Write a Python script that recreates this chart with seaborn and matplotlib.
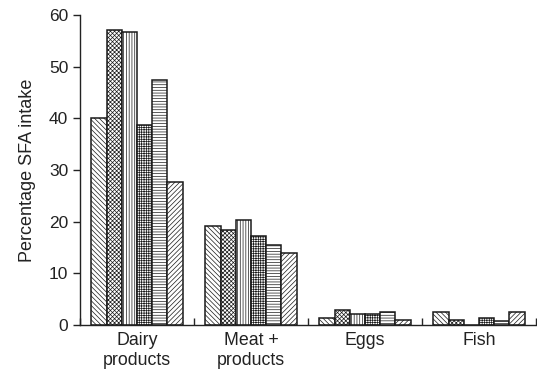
import matplotlib
matplotlib.use("Agg")
import matplotlib.pyplot as plt
import seaborn as sns
import pandas as pd

# Share of saturated fatty acid intake by food group, six survey groups
categories = ["Dairy\nproducts", "Meat +\nproducts", "Eggs", "Fish"]
groups = ["G1", "G2", "G3", "G4", "G5", "G6"]
values = {
    "G1": [40.0, 19.1, 1.3, 2.5],
    "G2": [57.1, 18.3, 2.9, 0.9],
    "G3": [56.8, 20.3, 2.2, 0.0],
    "G4": [38.8, 17.3, 2.2, 1.3],
    "G5": [47.4, 15.4, 2.5, 0.7],
    "G6": [27.7, 13.9, 1.0, 2.5],
}
hatches = ["\\" * 7, "x" * 8, "|" * 6, "+" * 7, "-" * 6, "/" * 7]

rows = []
for g in groups:
    for c, v in zip(categories, values[g]):
        rows.append({"category": c, "group": g, "value": v})
df = pd.DataFrame(rows)

sns.set_theme(style="ticks")
plt.rcParams["font.family"] = ["Liberation Sans", "DejaVu Sans"]
plt.rcParams["hatch.linewidth"] = 0.5

fig = plt.figure(figsize=(5.37, 3.77), dpi=100)
ax = fig.add_axes([0.149, 0.138, 0.849, 0.822])

palette = {g: "white" for g in groups}
sns.barplot(data=df, x="category", y="value", hue="group", order=categories,
            hue_order=groups, palette=palette, width=0.8, gap=0,
            edgecolor="black", linewidth=1.1, legend=False, ax=ax,
            errorbar=None)

# apply hatch per series (patches are ordered series by series)
for i, g in enumerate(groups):
    for j in range(len(categories)):
        p = ax.patches[i * len(categories) + j]
        p.set_hatch(hatches[i])
        p.set_edgecolor("#1a1a1a")

ax.set_xlim(-0.5, 3.5)
ax.set_ylim(0, 60)
ax.set_yticks(range(0, 61, 10))
ax.set_xlabel("")
ax.set_ylabel("Percentage SFA intake", fontsize=13, labelpad=9,
              color="#222222")
ax.tick_params(axis="y", labelsize=12.5, length=5, width=1, direction="out",
               colors="#222222")
ax.tick_params(axis="x", which="major", length=0, labelsize=12.8, pad=5,
               colors="#222222")
for lab in ax.get_xticklabels():
    lab.set_linespacing(1.25)
ax.set_xticks([-0.5, 0.5, 1.5, 2.5, 3.5], minor=True)
ax.tick_params(axis="x", which="minor", length=5, width=1, direction="in")
sns.despine(ax=ax)
for s in ["left", "bottom"]:
    ax.spines[s].set_linewidth(1.0)
    ax.spines[s].set_color("#222222")

fig.savefig("out.png", dpi=100)
